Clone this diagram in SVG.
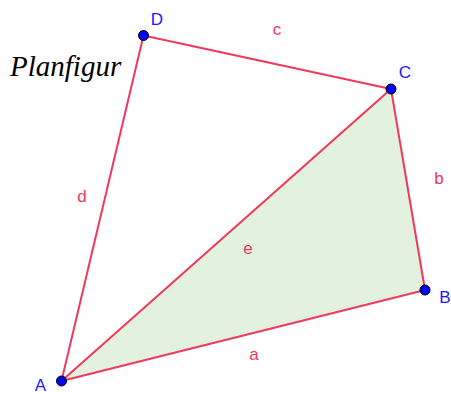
<svg xmlns="http://www.w3.org/2000/svg" width="451" height="394" viewBox="0 0 451 394">
<style>
.edge{stroke:#f2385a;stroke-width:2;fill:none;stroke-linejoin:round}
.elab{font-family:"Liberation Sans",Arial,sans-serif;font-size:17px;fill:#f2385a}
.plab{font-family:"Liberation Sans",Arial,sans-serif;font-size:17px;fill:#1a1aff}
.pt{fill:#0000ff;stroke:#000;stroke-width:1}
</style>
<rect width="451" height="394" fill="#fff"/>
<g id="triangle">
<polygon points="61.5,381 425,290 391,89" fill="#e3f1df" stroke="none"/>
</g>
<g id="connectors">
<line class="edge" x1="61.5" y1="381" x2="425" y2="290"/>
<line class="edge" x1="425" y1="290" x2="391" y2="89"/>
<line class="edge" x1="391" y1="89" x2="143.5" y2="35.5"/>
<line class="edge" x1="143.5" y1="35.5" x2="61.5" y2="381"/>
<line class="edge" x1="61.5" y1="381" x2="391" y2="89"/>
<text class="elab" x="254" y="360" text-anchor="middle">a</text>
<text class="elab" x="439" y="184" text-anchor="middle">b</text>
<text class="elab" x="277" y="35" text-anchor="middle">c</text>
<text class="elab" x="82" y="202" text-anchor="middle">d</text>
<text class="elab" x="248" y="254" text-anchor="middle">e</text>
</g>
<g id="A"><circle class="pt" cx="61.5" cy="381" r="5"/><text class="plab" x="40.5" y="391" text-anchor="middle">A</text></g>
<g id="B"><circle class="pt" cx="425" cy="290" r="5"/><text class="plab" x="445" y="303" text-anchor="middle">B</text></g>
<g id="C"><circle class="pt" cx="391" cy="89" r="5"/><text class="plab" x="405" y="78" text-anchor="middle">C</text></g>
<g id="D"><circle class="pt" cx="143.5" cy="35.5" r="5"/><text class="plab" x="157" y="25" text-anchor="middle">D</text></g>
<text x="10" y="76" font-family="'Liberation Serif','Times New Roman',serif" font-style="italic" font-size="29" fill="#000">Planfigur</text>
</svg>
